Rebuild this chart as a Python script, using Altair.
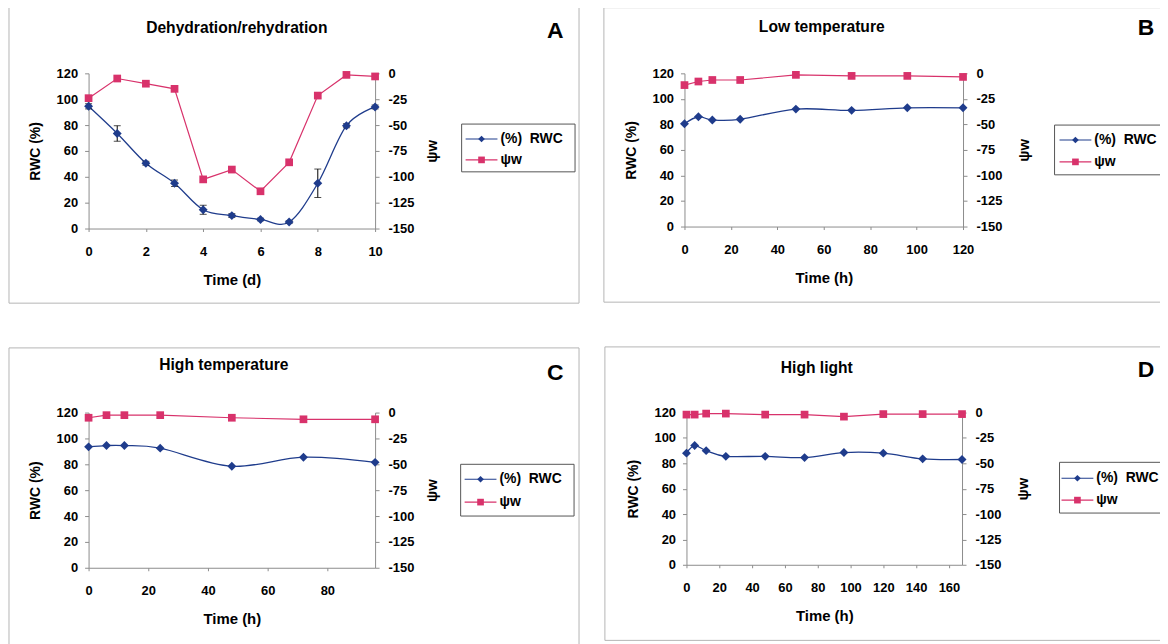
import altair as alt
import pandas as pd

FONT = "Liberation Sans"
BLUE = "#1f3c8c"
PINK = "#d8326b"
BORDER = "#b4b4b4"
AXIS = "#8c8c8c"

# ---------------- data ----------------
A_t = [0, 1, 2, 3, 4, 5, 6, 7, 8, 9, 10]
A_rwc = [94.5, 73.5, 50.5, 35, 14.5, 10, 7, 5, 35, 79.5, 94]
A_err = [2, 6, 1.5, 2.5, 3.5, 1.5, 1, 1, 11, 1.5, 1.5]
A_psi = [-24, -5, -10, -15, -102.5, -93, -114, -86, -21.5, -1.5, -3]

B_t = [0, 6, 12, 24, 48, 72, 96, 120]
B_rwc = [80.5, 86, 83.5, 84, 92, 91, 93, 93]
B_psi = [-11.5, -8, -6.5, -6.5, -1.5, -2.5, -2.5, -3.5]

C_t = [0, 6, 12, 24, 48, 72, 96]
C_rwc = [93.5, 94.5, 94.5, 92.5, 78.5, 85.5, 81.5]
C_psi = [-5, -2.5, -2.5, -2.5, -5, -6.5, -6.5]

D_t = [0, 5, 12, 24, 48, 72, 96, 120, 144, 168]
D_rwc = [88, 94, 90, 85.5, 85.5, 84.5, 88.5, 88, 83.5, 83]
D_psi = [-2, -2, -1, -1, -2, -2, -4, -1.5, -1.5, -1.5]

RWC_TICKS = [0, 20, 40, 60, 80, 100, 120]
PSI_TICKS = [0, -25, -50, -75, -100, -125, -150]

ONE = pd.DataFrame({"k": [0]})


def text(s, x, y, size, align="center", weight="bold"):
    return alt.Chart(ONE).mark_text(
        text=s, font=FONT, fontSize=size, fontWeight=weight, color="black",
        align=align, baseline="middle"
    ).encode(x=alt.value(x), y=alt.value(y))


def rwc_y(field, h):
    return alt.Y(field, scale=alt.Scale(domain=[0, 120], nice=False, zero=False),
                 axis=alt.Axis(values=RWC_TICKS, title="RWC (%)", orient="left",
                               tickSize=4, labelPadding=7, labelFlush=False,
                               labelOverlap=False,
                               titleX=-53.5, titleY=h / 2, titleAngle=270,
                               titleBaseline="middle", titleFontSize=14))


def panel(t, rwc, psi, err, xmax, xticks, xtitle, w, h, title, tpos,
          letter, lpos, box, ly, lx, border, rtx):
    df = pd.DataFrame({"t": t, "rwc": rwc, "psi": psi})
    x = alt.X("t:Q", scale=alt.Scale(domain=[0, xmax], nice=False, zero=False),
              axis=alt.Axis(values=xticks, title=xtitle, orient="bottom",
                            tickSize=3, labelPadding=14, labelFlush=False,
                            labelOverlap=False, titleY=51, titleBaseline="middle",
                            titleFontSize=15))
    y1 = rwc_y("rwc:Q", h)
    y2 = alt.Y("psi:Q", scale=alt.Scale(domain=[-150, 0], nice=False, zero=False),
               axis=alt.Axis(values=PSI_TICKS, title="ψw", orient="right",
                             tickSize=4, labelPadding=9, labelFlush=False,
                             labelOverlap=False,
                             labelExpr="datum.value == 0 ? '0' : '-' + abs(datum.value)",
                             titleX=rtx, titleY=h / 2, titleAngle=270,
                             titleBaseline="middle", titleFontSize=15))
    base = alt.Chart(df)
    rwc_layers = [
        base.mark_line(interpolate="cardinal", tension=0, color=BLUE,
                       strokeWidth=1.3).encode(x=x, y=y1),
    ]
    if err is not None:
        edf = pd.DataFrame({"t": t, "rwc": [r - e for r, e in zip(rwc, err)],
                            "hi": [r + e for r, e in zip(rwc, err)]})
        eb = alt.Chart(edf)
        rwc_layers += [
            eb.mark_rule(color="black", strokeWidth=1).encode(x=x, y=y1, y2="hi:Q"),
            eb.mark_tick(orient="horizontal", color="black", size=7, thickness=1).encode(
                x=x, y=y1),
            eb.mark_tick(orient="horizontal", color="black", size=7, thickness=1).encode(
                x=x, y=rwc_y("hi:Q", h)),
        ]
    rwc_layers.append(
        base.mark_point(shape="diamond", filled=True, size=80, color=BLUE,
                        opacity=1).encode(x=x, y=y1))
    rwc_layer = alt.layer(*rwc_layers)
    psi_layer = alt.layer(
        base.mark_line(color=PINK, strokeWidth=1.2).encode(x=x, y=y2),
        base.mark_square(size=60, color=PINK, opacity=1).encode(x=x, y=y2),
    )
    bx1, by1, bx2, by2 = border
    frame = alt.Chart(ONE).mark_rect(fillOpacity=0, stroke=BORDER, strokeWidth=1).encode(
        x=alt.value(bx1), x2=alt.value(bx2), y=alt.value(by1), y2=alt.value(by2))
    lx1, lyy1, lx2, lyy2 = box
    lbox = alt.Chart(ONE).mark_rect(fillOpacity=0, stroke="#555555", strokeWidth=1).encode(
        x=alt.value(lx1), x2=alt.value(lx2), y=alt.value(lyy1), y2=alt.value(lyy2))
    s1, s2, ts = lx
    leg = []
    for yy, col, shp, lab in [(ly[0], BLUE, "diamond", "(%)\u00a0 RWC"),
                              (ly[1], PINK, "square", "ψw")]:
        leg.append(alt.Chart(ONE).mark_rule(color=col, strokeWidth=1.2).encode(
            x=alt.value(s1), x2=alt.value(s2), y=alt.value(yy)))
        leg.append(alt.Chart(ONE).mark_point(shape=shp, filled=True, size=45,
                                             color=col, opacity=1).encode(
            x=alt.value((s1 + s2) / 2), y=alt.value(yy)))
        leg.append(text(lab, ts, yy, 14, align="left"))
    layers = [frame, rwc_layer, psi_layer,
              text(title, tpos[0], tpos[1], 15.7),
              text(letter, lpos[0], lpos[1], 23),
              lbox] + leg
    return alt.layer(*layers).resolve_scale(y="independent").properties(
        width=w, height=h)


A = panel(A_t, A_rwc, A_psi, A_err, 10, [0, 2, 4, 6, 8, 10], "Time (d)", 288, 156,
          "Dehydration/rehydration", (149, -46), "A", (469, -43),
          (375, 51, 489, 99), (66, 87), (379, 411, 414), (-80, -67, 493, 231), 57)
B = panel(B_t, B_rwc, B_psi, None, 120, [0, 20, 40, 60, 80, 100, 120], "Time (h)", 280, 154,
          "Low temperature", (138, -47), "B", (464, -46),
          (372, 52, 500, 102), (67, 89), (377, 409, 412), (-81, -66, 505, 230), 61)
C = panel(C_t, C_rwc, C_psi, None, 96, [0, 20, 40, 60, 80], "Time (h)", 288, 156,
          "High temperature", (136, -48), "C", (469, -40),
          (374, 52, 488, 104), (67, 90), (378, 410, 413), (-80, -65, 493, 240), 57)
D = panel(D_t, D_rwc, D_psi, None, 168, [0, 20, 40, 60, 80, 100, 120, 140, 160], "Time (h)",
          277, 153, "High light", (131, -45), "D", (462, -43),
          (375, 50, 500, 101), (66, 88), (377, 409, 412), (-82, -66, 505, 229), 61)

row1 = alt.hconcat(A, B, spacing=23)
row2 = alt.hconcat(C, D, spacing=24)

# content spans page x 8..1190; clip the right side so the SVG is exactly 1152 wide
chart = alt.vconcat(row1, row2, spacing=42).properties(
    padding={"left": 0, "top": -4, "right": -30, "bottom": 0},
    background="white",
).configure(font=FONT).configure_view(stroke="transparent").configure_axis(
    labelFont=FONT, titleFont=FONT, labelFontSize=13, labelFontWeight="bold",
    titleFontWeight="bold", labelColor="black", titleColor="black",
    domainColor=AXIS, tickColor=AXIS, grid=False,
)

chart.save("out.html", embed_options={"renderer": "svg", "actions": False})
